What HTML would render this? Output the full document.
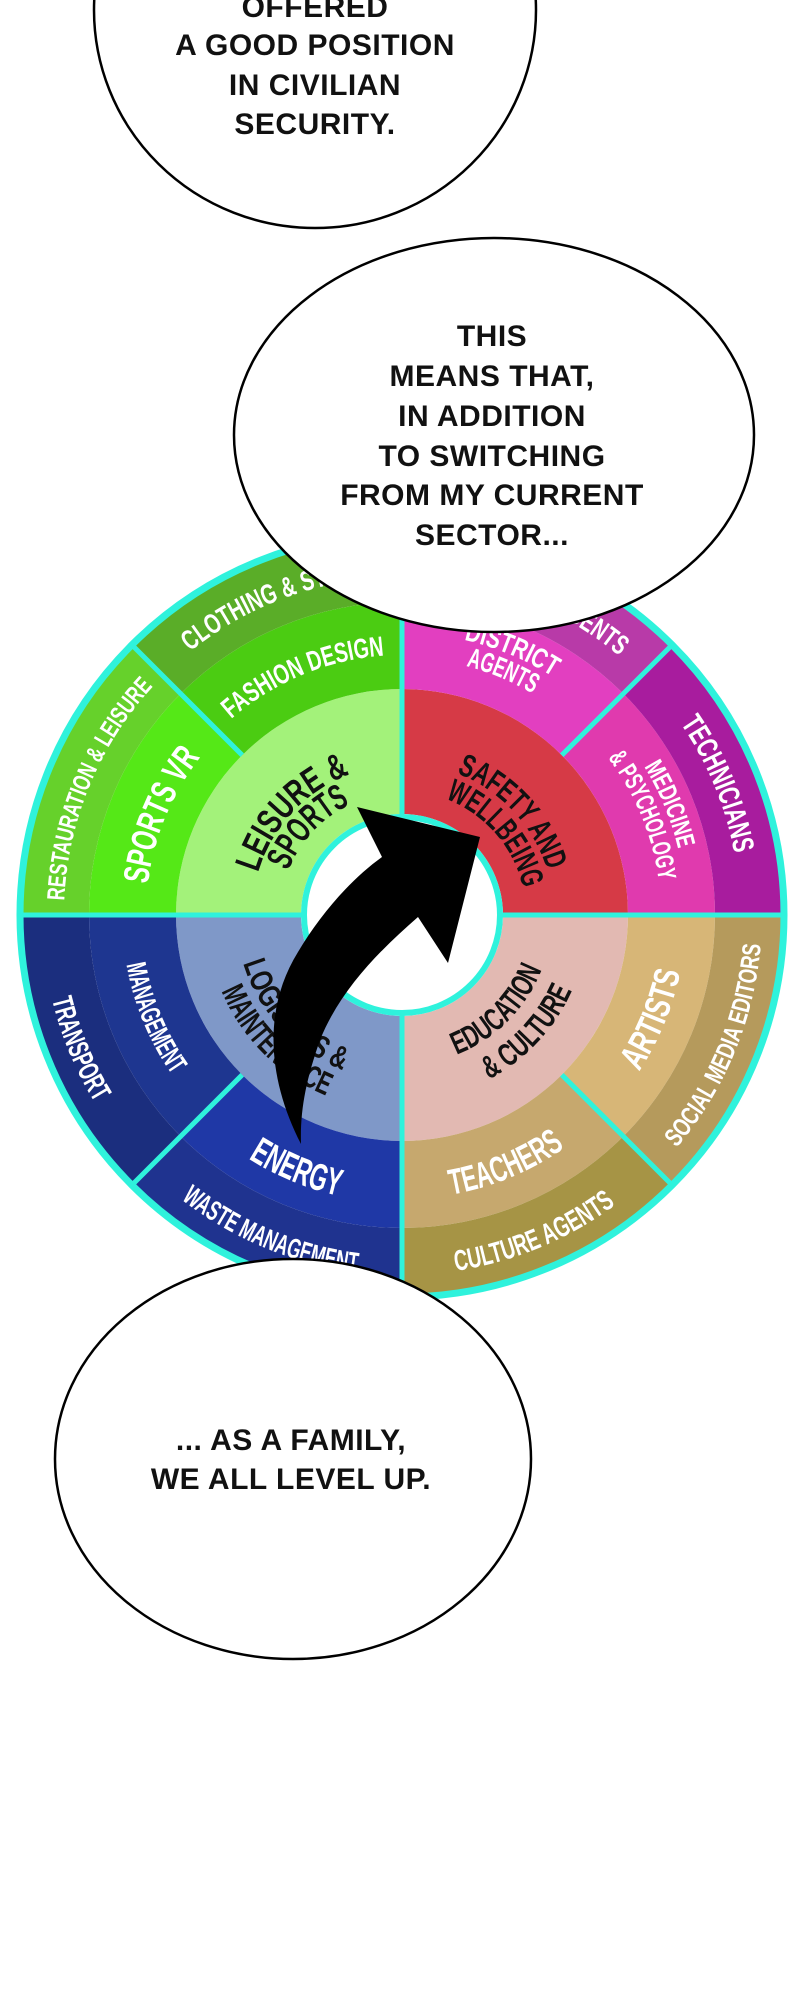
<!DOCTYPE html>
<html><head><meta charset="utf-8">
<style>
html,body{margin:0;padding:0;background:#fff;}
svg{display:block;}
.w{font-family:"Liberation Sans Narrow","Liberation Sans",sans-serif;font-weight:bold;fill:#fff;}
.c{font-family:"Liberation Sans Narrow","Liberation Sans",sans-serif;font-weight:bold;fill:#111;}
.b{font-family:"Liberation Sans",sans-serif;font-weight:bold;fill:#111;font-size:30px;text-anchor:middle;letter-spacing:0.5px;}
</style></head>
<body>
<svg id="s" width="800" height="2000" viewBox="0 0 800 2000" xmlns="http://www.w3.org/2000/svg" xmlns:xlink="http://www.w3.org/1999/xlink">
<defs id="d"></defs>
<g id="wheel"></g>
<path d="M301 1144 C268 1080 262 1010 298 952 C320 915 350 880 382 857 L357 807 L480 837 L448 963 L418 917 C380 950 340 990 320 1040 C306 1080 300 1110 301 1144 Z" fill="#000"/>
<ellipse cx="315" cy="10" rx="221" ry="218" fill="#fff" stroke="#000" stroke-width="2.5"/>
<text class="b" x="315" y="17">OFFERED</text>
<text class="b" x="315" y="55">A GOOD POSITION</text>
<text class="b" x="315" y="95">IN CIVILIAN</text>
<text class="b" x="315" y="134">SECURITY.</text>
<ellipse cx="494" cy="435" rx="260" ry="197" fill="#fff" stroke="#000" stroke-width="2.5"/>
<text class="b" x="492" y="346">THIS</text>
<text class="b" x="492" y="386">MEANS THAT,</text>
<text class="b" x="492" y="426">IN ADDITION</text>
<text class="b" x="492" y="466">TO SWITCHING</text>
<text class="b" x="492" y="505">FROM MY CURRENT</text>
<text class="b" x="492" y="545">SECTOR...</text>
<ellipse cx="293" cy="1459" rx="238" ry="200" fill="#fff" stroke="#000" stroke-width="2.5"/>
<text class="b" x="291" y="1450">... AS A FAMILY,</text>
<text class="b" x="291" y="1489">WE ALL LEVEL UP.</text>
</svg>
<script>
(function(){
var NS="http://www.w3.org/2000/svg",cx=402,cy=915;
var g=document.getElementById("wheel"),d=document.getElementById("d"),n=0;
function P(r,a){a*=Math.PI/180;return (cx+r*Math.cos(a)).toFixed(2)+" "+(cy+r*Math.sin(a)).toFixed(2);}
function el(t,at,p){var e=document.createElementNS(NS,t);for(var k in at)e.setAttribute(k,at[k]);(p||g).appendChild(e);return e;}
function sec(r1,r2,a1,a2,f){el("path",{d:"M"+P(r2,a1)+" A"+r2+" "+r2+" 0 0 1 "+P(r2,a2)+" L"+P(r1,a2)+" A"+r1+" "+r1+" 0 0 0 "+P(r1,a1)+" Z",fill:f});}
function txt(r,a1,a2,s,size,cls,anchor,off){
 var id="a"+(n++),sw=a2>a1?1:0;
 el("path",{id:id,d:"M"+P(r,a1)+" A"+r+" "+r+" 0 0 "+sw+" "+P(r,a2),fill:"none"},d);
 var t=el("text",{"class":cls,"font-size":size});
 var L=(s.length*size*0.43).toFixed(1);
 var tp=el("textPath",{href:"#"+id,startOffset:off||"50%","text-anchor":anchor||"middle",textLength:L,lengthAdjust:"spacingAndGlyphs"},t);
 tp.setAttributeNS("http://www.w3.org/1999/xlink","xlink:href","#"+id);
 tp.textContent=s;}
sec(101,226,-180,-90,"#a3f27a");sec(226,313,-180,-135,"#55e817");sec(226,313,-135,-90,"#4bcc12");
sec(313,385,-180,-135,"#66d12b");sec(313,385,-135,-90,"#5aad28");
sec(101,226,-90,0,"#d63a46");sec(226,313,-90,-45,"#e23fc0");sec(313,385,-90,-45,"#b83aa8");
sec(226,313,-45,0,"#e03aae");sec(313,385,-45,0,"#a81c9e");
sec(101,226,0,90,"#e2b9b2");sec(226,313,0,45,"#d7b677");sec(313,385,0,45,"#b59a5c");
sec(226,313,45,90,"#c6a86e");sec(313,385,45,90,"#a69445");
sec(101,226,90,180,"#7f98c8");sec(226,313,90,135,"#1f38a6");sec(313,385,90,135,"#1f338f");
sec(226,313,135,180,"#1e3690");sec(313,385,135,180,"#1b2e7e");
var cy2="#2ff2dc";
el("line",{x1:cx,y1:cy-385,x2:cx,y2:cy+385,stroke:cy2,"stroke-width":5});
el("line",{x1:cx-385,y1:cy,x2:cx+385,y2:cy,stroke:cy2,"stroke-width":5});
[-135,-45,45,135].forEach(function(a){var p1=P(226,a).split(" "),p2=P(385,a).split(" ");
 el("line",{x1:p1[0],y1:p1[1],x2:p2[0],y2:p2[1],stroke:cy2,"stroke-width":5});});
el("circle",{cx:cx,cy:cy,r:382,fill:"none",stroke:cy2,"stroke-width":7});
el("circle",{cx:cx,cy:cy,r:98,fill:"#fff",stroke:cy2,"stroke-width":6});
txt(338,-135,-90,"CLOTHING & STYLE",28,"w");
txt(338,-180,-135,"RESTAURATION & LEISURE",25,"w");
txt(338,-100,-50,"SECURITY AGENTS",28,"w","end","100%");
txt(338,-45,0,"TECHNICIANS",30,"w");
txt(360,45,0,"SOCIAL MEDIA EDITORS",26,"w");
txt(360,90,45,"CULTURE AGENTS",29,"w");
txt(360,135,90,"WASTE MANAGEMENT",28,"w");
txt(360,180,135,"TRANSPORT",29,"w");
txt(256,-180,-135,"SPORTS VR",36,"w");
txt(260,-135,-90,"FASHION DESIGN",28,"w");
txt(282,-90,-45,"DISTRICT",28,"w");
txt(257,-90,-45,"AGENTS",28,"w");
txt(284,-45,0,"MEDICINE",26,"w");
txt(259,-45,0,"& PSYCHOLOGY",26,"w");
txt(284,45,0,"ARTISTS",36,"w");
txt(284,90,45,"TEACHERS",36,"w");
txt(288,135,90,"ENERGY",38,"w");
txt(280,180,135,"MANAGEMENT",28,"w");
txt(150,-182,-92,"LEISURE &",36,"c");
txt(122,-182,-92,"SPORTS",36,"c");
txt(152,-88,2,"SAFETY AND",32,"c");
txt(124,-86,4,"WELLBEING",32,"c");
txt(150,90,0,"EDUCATION",32,"c");
txt(186,88,-2,"& CULTURE",32,"c");
txt(166,182,92,"LOGISTICS &",32,"c");
txt(196,180,90,"MAINTENANCE",32,"c");
})();
</script>
</body></html>
